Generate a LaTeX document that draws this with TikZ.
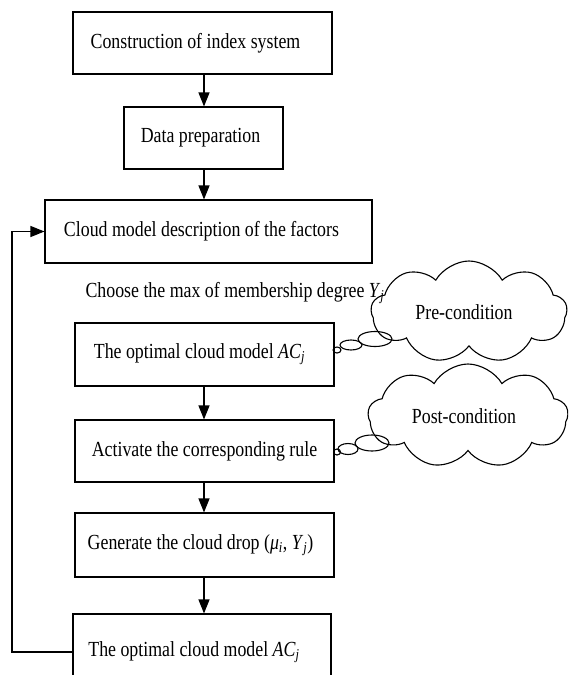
\documentclass[tikz,border=0pt]{standalone}
\usepackage{fontspec}
\setmainfont[FakeStretch=0.83]{Liberation Serif}
\usetikzlibrary{arrows.meta,shapes.symbols}
\begin{document}
\begin{tikzpicture}[x=1pt,y=-1pt,line width=1.1pt,
  txt/.style={font=\fontsize{21.5}{25}\selectfont},
  box/.style={draw,rectangle,inner sep=0pt,txt},
  flow/.style={-{Triangle[length=14pt,width=11pt]}},
  puff/.style={draw,cloud,cloud puffs=9,cloud puff arc=120,cloud ignores aspect,inner sep=0pt,txt}]
\useasboundingbox (0,0) rectangle (568,675);
\clip (0,0) rectangle (568,675);
\node[box,minimum width=259pt,minimum height=62pt] (b1) at (202.5,43) {Construction of index system\hspace*{14pt}};
\node[box,minimum width=159pt,minimum height=62pt] (b2) at (203.5,138) {Data preparation\hspace*{6pt}};
\node[box,minimum width=327pt,minimum height=63pt] (b3) at (208.5,231.5) {Cloud model description of the factors\hspace*{14pt}};
\node[txt,inner sep=0pt] (choose) at (235,293) {Choose the max of membership degree \textit{Y}\textsubscript{\textit{j}}};
\node[box,minimum width=259pt,minimum height=63pt] (b4) at (204.5,354.5) {The optimal cloud model \textit{AC}\textsubscript{\textit{j}}\hspace*{10pt}};
\node[box,minimum width=259pt,minimum height=62pt] (b5) at (204.5,451) {Activate the corresponding rule};
\node[box,minimum width=259pt,minimum height=64pt] (b6) at (204.5,545) {Generate the cloud drop (\textit{μ}\textsubscript{\textit{i}}, \textit{Y}\textsubscript{\textit{j}})\hspace*{8pt}};
\node[box,minimum width=258pt,minimum height=76pt] (b7) at (202,652) {The optimal cloud model \textit{AC}\textsubscript{\textit{j}}\hspace*{16pt}};
\coordinate (ax) at (204,0);
\coordinate (fb) at (12,0);
\draw[flow] (ax |- b1.south) -- (ax |- b2.north);
\draw[flow] (ax |- b2.south) -- (ax |- b3.north);
\draw[flow] (ax |- b4.south) -- (ax |- b5.north);
\draw[flow] (ax |- b5.south) -- (ax |- b6.north);
\draw[flow] (ax |- b6.south) -- (ax |- b7.north);
\draw[flow] (b7.west) -- (fb |- b7.west) -- (fb |- b3.west) -- (b3.west);
\node[puff,minimum width=196pt,minimum height=102pt] (c1) at (469,312) {Pre-condition\hspace*{10pt}};
\node[puff,minimum width=200pt,minimum height=104pt] (c2) at (468,416) {Post-condition\hspace*{8pt}};
\draw (337,350) ellipse (4 and 3);
\draw (351,345) ellipse (11 and 5);
\draw (375,339) ellipse (17 and 7.5);
\draw (337,452) ellipse (3.5 and 3);
\draw (348,449) ellipse (10 and 5.5);
\draw (372,443) ellipse (17 and 8);
\end{tikzpicture}
\end{document}
